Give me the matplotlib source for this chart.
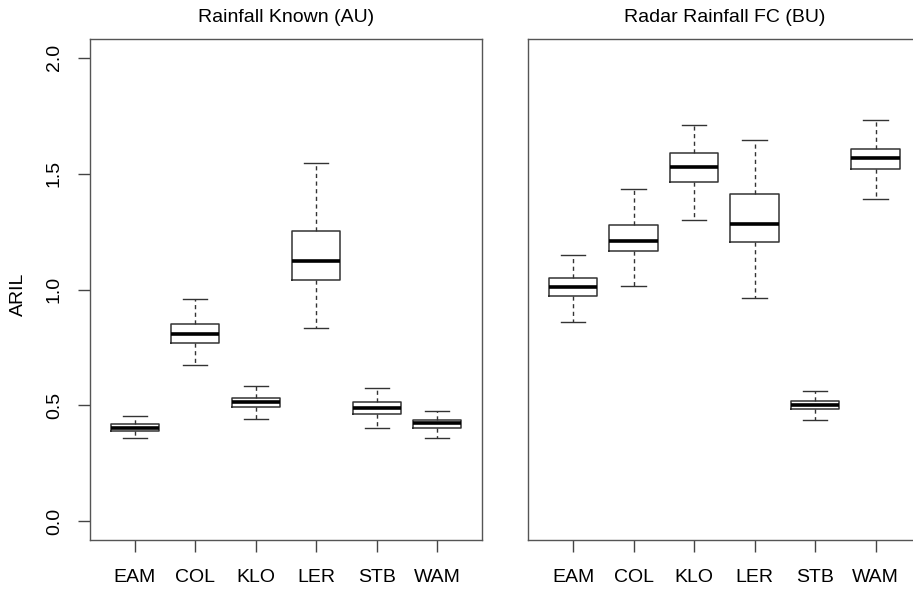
import numpy as np
import matplotlib
matplotlib.use("Agg")
import matplotlib.pyplot as plt

plt.rcParams['font.family'] = ['Liberation Sans', 'DejaVu Sans']

stations = ["EAM", "COL", "KLO", "LER", "STB", "WAM"]

# Rainfall Known (AU)
au_low = [0.360, 0.675, 0.442, 0.832, 0.401, 0.360]
au_q1 = [0.390, 0.771, 0.493, 1.040, 0.463, 0.405]
au_med = [0.404, 0.808, 0.513, 1.124, 0.490, 0.424]
au_q3 = [0.418, 0.851, 0.531, 1.253, 0.513, 0.437]
au_high = [0.455, 0.960, 0.583, 1.545, 0.574, 0.477]

# Radar Rainfall FC (BU)
bu_low = [0.862, 1.017, 1.299, 0.964, 0.437, 1.390]
bu_q1 = [0.970, 1.168, 1.465, 1.206, 0.484, 1.518]
bu_med = [1.012, 1.211, 1.528, 1.283, 0.501, 1.565]
bu_q3 = [1.048, 1.277, 1.587, 1.411, 0.518, 1.607]
bu_high = [1.147, 1.433, 1.708, 1.644, 0.561, 1.730]

y_ticks = [0.0, 0.5, 1.0, 1.5, 2.0]


def make_stats(low, q1, med, q3, high):
    stats = []
    for i in range(len(stations)):
        stats.append({"whislo": low[i], "q1": q1[i], "med": med[i],
                      "q3": q3[i], "whishi": high[i], "fliers": [],
                      "label": stations[i]})
    return stats


def draw_panel(ax, stats, title):
    pos = np.arange(1, len(stats) + 1)
    ax.bxp(stats, positions=pos, widths=0.8, capwidths=0.4,
           showfliers=False, patch_artist=False,
           boxprops=dict(color="#333333", lw=1.1),
           medianprops=dict(color="black", lw=2.6, solid_capstyle="butt"),
           whiskerprops=dict(color="#333333", lw=1.0, linestyle=(0, (3, 2.5))),
           capprops=dict(color="#333333", lw=1.0))
    ax.set_xlim(0.26, 6.74)
    ax.set_ylim(-0.08, 2.08)
    ax.set_xticks(pos)
    ax.set_xticklabels(stations, fontsize=14)
    ax.tick_params(axis="x", length=8.6, width=1, color="#444444", pad=12)
    for sp in ax.spines.values():
        sp.set_color("#555555")
        sp.set_linewidth(1)
    ax.set_title(title, fontsize=14, pad=12)


fig = plt.figure(figsize=(9.13, 5.92), dpi=100)
ax1 = fig.add_axes([90 / 913, 52 / 592, 392 / 913, 501 / 592])
ax2 = fig.add_axes([528.3 / 913, 52 / 592, 392 / 913, 501 / 592])

draw_panel(ax1, make_stats(au_low, au_q1, au_med, au_q3, au_high), "Rainfall Known (AU)")
draw_panel(ax2, make_stats(bu_low, bu_q1, bu_med, bu_q3, bu_high), "Radar Rainfall FC (BU)")

ax1.set_yticks(y_ticks)
ax1.set_yticklabels(["%.1f" % v for v in y_ticks], fontsize=14)
ax1.tick_params(axis="y", length=8.6, width=1, color="#444444", pad=11, labelrotation=90)
for lab in ax1.get_yticklabels():
    lab.set_va("center")
ax1.set_ylabel("ARIL", fontsize=14)
ax1.yaxis.set_label_coords(-0.161, 0.491)

ax2.set_yticks([])

fig.savefig("out.png", dpi=100)
